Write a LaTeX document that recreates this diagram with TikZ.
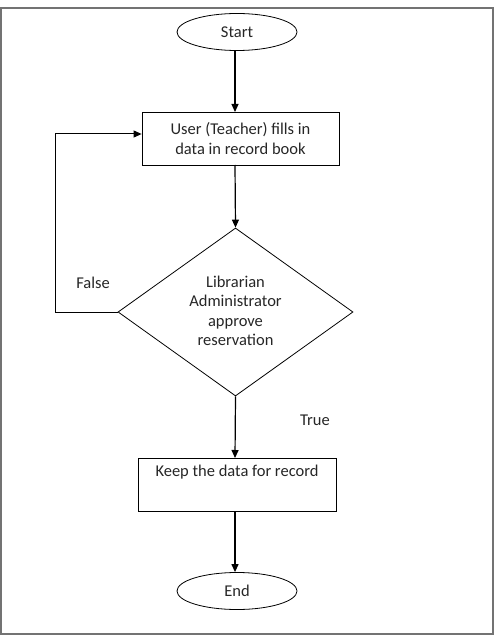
\documentclass[tikz,border=0pt]{standalone}
\usepackage{fontspec}
\setmainfont{Carlito}
\usetikzlibrary{shapes.geometric,arrows.meta}
\begin{document}
\begin{tikzpicture}[x=1pt,y=-1pt,
  every node/.style={font=\fontsize{16.5}{19.5}\selectfont,text=black!85},
  term/.style={draw,ellipse,line width=0.8pt,minimum width=120pt,minimum height=37pt,inner sep=0pt},
  procbox/.style={draw,rectangle,line width=0.8pt,minimum width=197pt,minimum height=53pt,align=center,inner sep=0pt},
  decision/.style={draw,diamond,line width=0.8pt,minimum width=235pt,minimum height=168pt,inner sep=0pt,align=center},
  flow/.style={line width=1.2pt,-{Triangle[length=8pt,width=7pt]}},
  plain/.style={line width=1pt},
  lbl/.style={inner sep=0pt}]
\useasboundingbox (0,0) rectangle (497,644);
\draw[line width=1.5pt,color=black!55] (1,8) rectangle (493,634);
\node[term] (start) at (237,32) {Start};
\node[procbox] (fill) at (240.5,138.5) {User (Teacher) fills in\\data in record book};
\node[decision] (dec) at (235.5,312) {};
\node[align=center,inner sep=0pt] (dectext) at (235.5,311) {Librarian\\Administrator\\approve\\reservation};
\node[draw,rectangle,line width=0.8pt,minimum width=198pt,minimum height=53pt,inner sep=0pt] (keep) at (237,484.5) {};
\node[inner sep=0pt] (keeptext) at (237,472) {Keep the data for record};
\node[term] (end) at (237,591) {End};
\node[lbl] (false) at (93,283) {False};
\node[lbl] (true) at (315,420) {True};
\coordinate (c1) at (55,312);
\coordinate (c2) at (55,134);
\draw[flow] (start.south -| 235,0) -- (235,112);
\draw[flow] (235,165) -- (dec.north);
\draw[plain] (dec.west) -- (c1) -- (c2);
\draw[flow,line width=1pt] (c2) -- (fill.west |- c2);
\draw[flow] (dec.south) -- (235,458);
\draw[flow] (235,511) -- (end.north -| 235,0);
\end{tikzpicture}
\end{document}
